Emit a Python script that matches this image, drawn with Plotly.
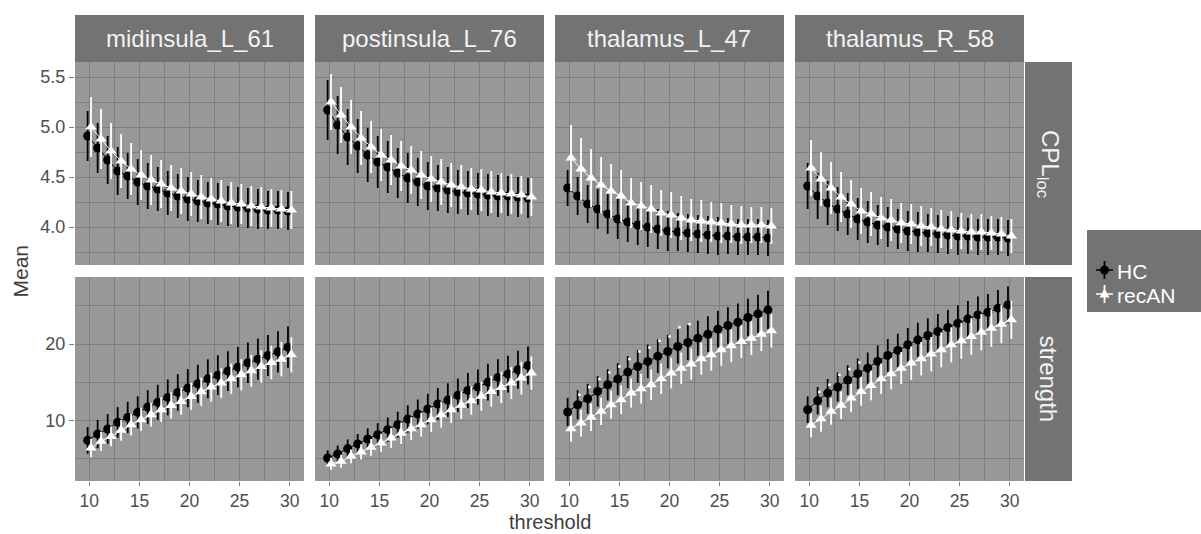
import plotly.graph_objects as go

# ---------------- data ----------------
thresholds = list(range(10, 31))
regions = ["midinsula_L_61", "postinsula_L_76", "thalamus_L_47", "thalamus_R_58"]
measures = ["CPL<sub>loc</sub>", "strength"]
groups = ["HC", "recAN"]

# CPL_loc means
cpl_hc_mid = [4.91, 4.79, 4.67, 4.56, 4.51, 4.45, 4.41, 4.38, 4.34, 4.31, 4.28, 4.26, 4.24, 4.23, 4.21, 4.20, 4.19, 4.18, 4.17, 4.17, 4.16]
cpl_hc_post = [5.17, 5.02, 4.90, 4.81, 4.72, 4.65, 4.60, 4.54, 4.49, 4.45, 4.41, 4.39, 4.37, 4.35, 4.34, 4.33, 4.32, 4.31, 4.31, 4.30, 4.29]
cpl_hc_thalL = [4.39, 4.31, 4.23, 4.18, 4.13, 4.08, 4.05, 4.02, 4.00, 3.98, 3.96, 3.95, 3.94, 3.93, 3.92, 3.91, 3.91, 3.90, 3.90, 3.90, 3.89]
cpl_hc_thalR = [4.41, 4.31, 4.24, 4.18, 4.13, 4.08, 4.05, 4.02, 4.00, 3.98, 3.96, 3.95, 3.94, 3.93, 3.92, 3.91, 3.91, 3.90, 3.90, 3.90, 3.89]
cpl_rec_mid = [5.00, 4.88, 4.76, 4.66, 4.58, 4.52, 4.47, 4.43, 4.39, 4.36, 4.33, 4.30, 4.28, 4.26, 4.24, 4.23, 4.21, 4.20, 4.19, 4.18, 4.17]
cpl_rec_post = [5.25, 5.12, 5.00, 4.89, 4.80, 4.72, 4.67, 4.61, 4.57, 4.52, 4.48, 4.45, 4.42, 4.40, 4.38, 4.37, 4.35, 4.34, 4.33, 4.32, 4.30]
cpl_rec_thalL = [4.69, 4.58, 4.49, 4.42, 4.36, 4.31, 4.24, 4.21, 4.18, 4.14, 4.12, 4.09, 4.07, 4.06, 4.05, 4.04, 4.03, 4.02, 4.02, 4.02, 4.01]
cpl_rec_thalR = [4.59, 4.48, 4.39, 4.30, 4.23, 4.16, 4.13, 4.09, 4.07, 4.04, 4.03, 4.01, 4.00, 3.98, 3.97, 3.96, 3.95, 3.95, 3.94, 3.93, 3.91]

# CPL_loc error half-widths
cpl_hc_err_mid = [0.25, 0.25, 0.24, 0.24, 0.23, 0.23, 0.23, 0.22, 0.22, 0.22, 0.22, 0.21, 0.21, 0.21, 0.20, 0.20, 0.20, 0.20, 0.19, 0.19, 0.19]
cpl_hc_err_post = [0.30, 0.29, 0.28, 0.27, 0.27, 0.26, 0.26, 0.25, 0.25, 0.24, 0.24, 0.23, 0.23, 0.22, 0.22, 0.21, 0.21, 0.21, 0.20, 0.20, 0.20]
cpl_hc_err_thalL = [0.18, 0.19, 0.19, 0.20, 0.20, 0.20, 0.20, 0.20, 0.20, 0.20, 0.20, 0.19, 0.19, 0.19, 0.19, 0.19, 0.18, 0.18, 0.18, 0.18, 0.18]
cpl_hc_err_thalR = [0.23, 0.23, 0.22, 0.22, 0.21, 0.21, 0.21, 0.20, 0.20, 0.20, 0.20, 0.20, 0.19, 0.19, 0.19, 0.19, 0.18, 0.18, 0.18, 0.18, 0.18]
cpl_rec_err_mid = [0.30, 0.30, 0.28, 0.27, 0.26, 0.25, 0.25, 0.24, 0.23, 0.23, 0.22, 0.22, 0.21, 0.21, 0.21, 0.20, 0.20, 0.20, 0.19, 0.19, 0.19]
cpl_rec_err_post = [0.28, 0.28, 0.27, 0.27, 0.26, 0.26, 0.25, 0.25, 0.24, 0.24, 0.23, 0.23, 0.22, 0.22, 0.21, 0.21, 0.21, 0.20, 0.20, 0.19, 0.19]
cpl_rec_err_thalL = [0.33, 0.31, 0.29, 0.28, 0.27, 0.26, 0.25, 0.24, 0.24, 0.23, 0.23, 0.22, 0.21, 0.21, 0.20, 0.20, 0.19, 0.19, 0.18, 0.18, 0.18]
cpl_rec_err_thalR = [0.28, 0.27, 0.26, 0.25, 0.24, 0.23, 0.22, 0.21, 0.21, 0.20, 0.20, 0.20, 0.19, 0.19, 0.19, 0.18, 0.18, 0.18, 0.17, 0.17, 0.17]

# strength means
str_hc_mid = [7.38, 8.21, 8.87, 9.74, 10.39, 11.05, 11.75, 12.36, 13.01, 13.67, 14.23, 14.80, 15.45, 15.93, 16.46, 16.98, 17.55, 18.03, 18.51, 18.99, 19.60]
str_hc_post = [5.07, 5.60, 6.30, 6.91, 7.56, 8.13, 8.78, 9.44, 10.18, 10.83, 11.49, 12.14, 12.66, 13.28, 13.93, 14.37, 15.02, 15.63, 16.07, 16.64, 17.20]
str_hc_thalL = [11.10, 12.05, 12.84, 13.80, 14.67, 15.41, 16.33, 17.07, 17.73, 18.42, 19.03, 19.69, 20.21, 20.78, 21.30, 21.96, 22.44, 22.87, 23.49, 23.97, 24.49]
str_hc_thalR = [11.40, 12.58, 13.58, 14.37, 15.28, 16.11, 16.85, 17.73, 18.51, 19.17, 19.91, 20.56, 21.13, 21.65, 22.18, 22.74, 23.31, 23.83, 24.18, 24.71, 25.14]
str_rec_mid = [6.38, 7.25, 7.90, 8.69, 9.43, 10.09, 10.74, 11.40, 11.96, 12.49, 13.14, 13.75, 14.36, 14.89, 15.45, 15.98, 16.50, 17.07, 17.59, 18.03, 18.60]
str_rec_post = [4.29, 4.64, 5.29, 5.86, 6.47, 7.04, 7.69, 8.30, 8.91, 9.44, 10.09, 10.75, 11.40, 11.97, 12.58, 13.15, 13.80, 14.32, 14.89, 15.54, 16.20]
str_rec_thalL = [8.91, 9.65, 10.40, 11.18, 12.05, 12.71, 13.58, 14.15, 14.67, 15.46, 16.20, 16.85, 17.38, 18.08, 18.60, 19.25, 19.78, 20.34, 20.78, 21.30, 21.74]
str_rec_thalR = [9.35, 10.22, 11.18, 11.97, 12.93, 13.80, 14.58, 15.46, 16.11, 16.85, 17.51, 18.08, 18.69, 19.25, 19.91, 20.43, 21.00, 21.57, 22.09, 22.61, 23.18]

# strength error half-widths
str_hc_err_mid = [1.75, 1.85, 1.95, 2.0, 2.05, 2.1, 2.2, 2.3, 2.35, 2.4, 2.5, 2.5, 2.55, 2.6, 2.6, 2.65, 2.65, 2.7, 2.7, 2.7, 2.7]
str_hc_err_post = [1.0, 1.1, 1.2, 1.3, 1.4, 1.5, 1.6, 1.7, 1.8, 1.9, 2.0, 2.1, 2.2, 2.2, 2.3, 2.3, 2.4, 2.4, 2.4, 2.5, 2.5]
str_hc_err_thalL = [1.85, 1.9, 1.95, 2.0, 2.05, 2.1, 2.1, 2.15, 2.2, 2.2, 2.2, 2.25, 2.3, 2.3, 2.35, 2.4, 2.4, 2.45, 2.45, 2.5, 2.5]
str_hc_err_thalR = [1.75, 1.8, 1.85, 1.9, 1.95, 2.0, 2.05, 2.1, 2.15, 2.2, 2.2, 2.25, 2.25, 2.3, 2.3, 2.35, 2.35, 2.4, 2.4, 2.4, 2.4]
str_rec_err_mid = [1.2, 1.25, 1.3, 1.35, 1.4, 1.5, 1.55, 1.6, 1.7, 1.75, 1.8, 1.85, 1.9, 1.95, 2.0, 2.05, 2.1, 2.15, 2.2, 2.25, 2.3]
str_rec_err_post = [0.8, 0.85, 0.9, 1.0, 1.1, 1.2, 1.3, 1.4, 1.5, 1.55, 1.6, 1.7, 1.75, 1.8, 1.85, 1.9, 2.0, 2.05, 2.1, 2.15, 2.2]
str_rec_err_thalL = [1.7, 1.75, 1.8, 1.8, 1.85, 1.9, 1.9, 1.95, 2.0, 2.0, 2.0, 2.05, 2.05, 2.1, 2.1, 2.1, 2.15, 2.15, 2.2, 2.2, 2.2]
str_rec_err_thalR = [1.6, 1.7, 1.75, 1.8, 1.85, 1.9, 1.95, 2.0, 2.05, 2.1, 2.2, 2.2, 2.25, 2.3, 2.3, 2.35, 2.4, 2.4, 2.45, 2.5, 2.5]

# small significance marks (strength, thalamus panels)
sig_thalL_x = [11, 12, 13, 14, 15, 16, 17, 18, 19, 20, 21, 22]
sig_thalL_y = [13.36, 14.37, 15.42, 16.28, 17.07, 18.04, 19.03, 19.55, 20.43, 21.0, 22.22, 22.62]
sig_thalR_x = [11, 12, 13, 14, 15]
sig_thalR_y = [13.72, 14.67, 15.98, 16.72, 17.59]

x_ticks = [10, 15, 20, 25, 30]
cpl_ticks = [4.0, 4.5, 5.0, 5.5]
str_ticks = [10, 20]

# ---------------- assembly ----------------
hc_means = [[cpl_hc_mid, cpl_hc_post, cpl_hc_thalL, cpl_hc_thalR],
            [str_hc_mid, str_hc_post, str_hc_thalL, str_hc_thalR]]
rec_means = [[cpl_rec_mid, cpl_rec_post, cpl_rec_thalL, cpl_rec_thalR],
             [str_rec_mid, str_rec_post, str_rec_thalL, str_rec_thalR]]
hc_errs = [[cpl_hc_err_mid, cpl_hc_err_post, cpl_hc_err_thalL, cpl_hc_err_thalR],
           [str_hc_err_mid, str_hc_err_post, str_hc_err_thalL, str_hc_err_thalR]]
rec_errs = [[cpl_rec_err_mid, cpl_rec_err_post, cpl_rec_err_thalL, cpl_rec_err_thalR],
            [str_rec_err_mid, str_rec_err_post, str_rec_err_thalL, str_rec_err_thalR]]
sig_marks = {(1, 2): (sig_thalL_x, sig_thalL_y), (1, 3): (sig_thalR_x, sig_thalR_y)}

W, H = 1201, 534
def px(x):
    return x / W
def py(y):
    return 1 - y / H

panel_x = [(75, 304), (315, 544), (555, 784), (795, 1024)]
panel_y = [(62, 265), (277, 481)]
strip_top = (15, 62)
strip_right = (1025, 1072)

PANEL_BG = "#989898"
GRID = "#7e7e7e"
STRIP_BG = "#737373"
STRIP_TXT = "#f2f2f2"
TICK_TXT = "#4d4d4d"
TICK_COL = "#6e7f8b"
FONT = "Liberation Sans, Arial, Helvetica, sans-serif"

dodge = 0.17
x_hc = [t - dodge for t in thresholds]
x_rec = [t + dodge for t in thresholds]

fig = go.Figure()
layout = {}
shapes = []
annotations = []

for r in range(2):
    for c in range(4):
        k = r * 4 + c + 1
        xa = "x" if k == 1 else f"x{k}"
        ya = "y" if k == 1 else f"y{k}"
        xkey = "xaxis" if k == 1 else f"xaxis{k}"
        ykey = "yaxis" if k == 1 else f"yaxis{k}"

        fig.add_trace(go.Scatter(
            x=x_hc, y=hc_means[r][c], xaxis=xa, yaxis=ya, mode="lines+markers",
            line=dict(color="black", width=1),
            marker=dict(symbol="circle", size=9, color="black"),
            error_y=dict(type="data", array=hc_errs[r][c], thickness=1.8, width=0, color="black"),
            showlegend=False, name="HC"))
        fig.add_trace(go.Scatter(
            x=x_rec, y=rec_means[r][c], xaxis=xa, yaxis=ya, mode="lines+markers",
            line=dict(color="white", width=1),
            marker=dict(symbol="triangle-up", size=10, color="white"),
            error_y=dict(type="data", array=rec_errs[r][c], thickness=1.8, width=0, color="white"),
            showlegend=False, name="recAN"))
        if (r, c) in sig_marks:
            sx, sy = sig_marks[(r, c)]
            fig.add_trace(go.Scatter(
                x=sx, y=sy, xaxis=xa, yaxis=ya, mode="markers",
                marker=dict(symbol="square", size=2.5, color="white"),
                showlegend=False, hoverinfo="skip"))

        x0, x1 = panel_x[c]
        y0, y1 = panel_y[r]
        layout[xkey] = dict(
            domain=[px(x0), px(x1)], anchor=ya, range=[8.57, 31.43],
            tickmode="array", tickvals=x_ticks, ticktext=[str(v) for v in x_ticks],
            showticklabels=(r == 1), ticks="outside" if r == 1 else "",
            ticklen=4, tickwidth=1.2, tickcolor=TICK_COL,
            tickfont=dict(size=17.5, color=TICK_TXT, family=FONT),
            showgrid=True, gridcolor=GRID, gridwidth=1.3, zeroline=False,
            minor=dict(tickmode="array", tickvals=[7.5, 12.5, 17.5, 22.5, 27.5],
                       showgrid=True, gridcolor=GRID, gridwidth=0.9),
            showline=False, fixedrange=True)
        if r == 0:
            yr = [3.62, 5.65]
            yt = cpl_ticks
            ytext = [f"{v:.1f}" for v in yt]
            ymin = [3.75, 4.25, 4.75, 5.25]
        else:
            yr = [2.05, 28.8]
            yt = str_ticks
            ytext = [str(v) for v in yt]
            ymin = [5, 15, 25]
        layout[ykey] = dict(
            domain=[py(y1), py(y0)], anchor=xa, range=yr,
            tickmode="array", tickvals=yt, ticktext=ytext,
            showticklabels=(c == 0), ticks="outside" if c == 0 else "",
            ticklen=5, tickwidth=1.2, tickcolor=TICK_COL,
            tickfont=dict(size=18, color=TICK_TXT, family=FONT),
            showgrid=True, gridcolor=GRID, gridwidth=1.3, zeroline=False,
            minor=dict(tickmode="array", tickvals=ymin,
                       showgrid=True, gridcolor=GRID, gridwidth=0.9),
            showline=False, fixedrange=True)

        # panel background
        shapes.append(dict(type="rect", xref="paper", yref="paper",
                           x0=px(x0), x1=px(x1), y0=py(y1), y1=py(y0),
                           fillcolor=PANEL_BG, line=dict(width=0), layer="below"))

# top strips
for c in range(4):
    x0, x1 = panel_x[c]
    shapes.append(dict(type="rect", xref="paper", yref="paper",
                       x0=px(x0), x1=px(x1), y0=py(strip_top[1]), y1=py(strip_top[0]),
                       fillcolor=STRIP_BG, line=dict(width=0), layer="below"))
    annotations.append(dict(xref="paper", yref="paper", x=px((x0 + x1) / 2),
                            y=py((strip_top[0] + strip_top[1]) / 2), text=regions[c],
                            showarrow=False, xanchor="center", yanchor="middle",
                            font=dict(size=24, color=STRIP_TXT, family=FONT)))
# right strips
for r in range(2):
    y0, y1 = panel_y[r]
    shapes.append(dict(type="rect", xref="paper", yref="paper",
                       x0=px(strip_right[0]), x1=px(strip_right[1]), y0=py(y1), y1=py(y0),
                       fillcolor=STRIP_BG, line=dict(width=0), layer="below"))
    annotations.append(dict(xref="paper", yref="paper", x=px((strip_right[0] + strip_right[1]) / 2),
                            y=py((y0 + y1) / 2), text=measures[r], textangle=90,
                            showarrow=False, xanchor="center", yanchor="middle",
                            font=dict(size=24, color=STRIP_TXT, family=FONT)))

# axis titles
annotations.append(dict(xref="paper", yref="paper", x=px(549.5), y=0, text="threshold",
                        showarrow=False, xanchor="center", yanchor="bottom", borderpad=0,
                        font=dict(size=20, color="#3d3d3d", family=FONT)))
annotations.append(dict(xref="paper", yref="paper", x=px(20), y=py(271.5), text="Mean",
                        textangle=-90, showarrow=False, xanchor="center", yanchor="middle",
                        font=dict(size=21, color="#3d3d3d", family=FONT)))

# legend (drawn)
shapes.append(dict(type="rect", xref="paper", yref="paper", x0=px(1087), x1=px(1201),
                   y0=py(312), y1=py(230), fillcolor=STRIP_BG, line=dict(width=0)))
for gi, (col, cy) in enumerate([("black", 270), ("white", 294)]):
    shapes.append(dict(type="line", xref="paper", yref="paper", x0=px(1096), x1=px(1113),
                       y0=py(cy), y1=py(cy), line=dict(color=col, width=1.5)))
    shapes.append(dict(type="line", xref="paper", yref="paper", x0=px(1104.5), x1=px(1104.5),
                       y0=py(cy + 9), y1=py(cy - 9), line=dict(color=col, width=1.8)))
    if gi == 0:
        shapes.append(dict(type="circle", xref="paper", yref="paper",
                           x0=px(1100), x1=px(1109), y0=py(cy + 4.5), y1=py(cy - 4.5),
                           fillcolor=col, line=dict(width=0)))
    else:
        path = (f"M {px(1104.5)} {py(cy - 5.5)} L {px(1099.5)} {py(cy + 3.5)} "
                f"L {px(1109.5)} {py(cy + 3.5)} Z")
        shapes.append(dict(type="path", xref="paper", yref="paper", path=path,
                           fillcolor=col, line=dict(width=0)))
    annotations.append(dict(xref="paper", yref="paper", x=px(1115), y=py(cy + 1),
                            text=groups[gi], showarrow=False, xanchor="left", yanchor="middle",
                            font=dict(size=21, color="white", family=FONT)))

fig.update_layout(
    width=W, height=H, margin=dict(l=0, r=0, t=0, b=0),
    paper_bgcolor="white", plot_bgcolor="rgba(0,0,0,0)",
    shapes=shapes, annotations=annotations, showlegend=False,
    font=dict(family=FONT),
    **layout)

fig.write_html("out.html", config={"displayModeBar": False},
               post_script="document.body.style.margin='0';document.body.style.overflow='hidden';")
